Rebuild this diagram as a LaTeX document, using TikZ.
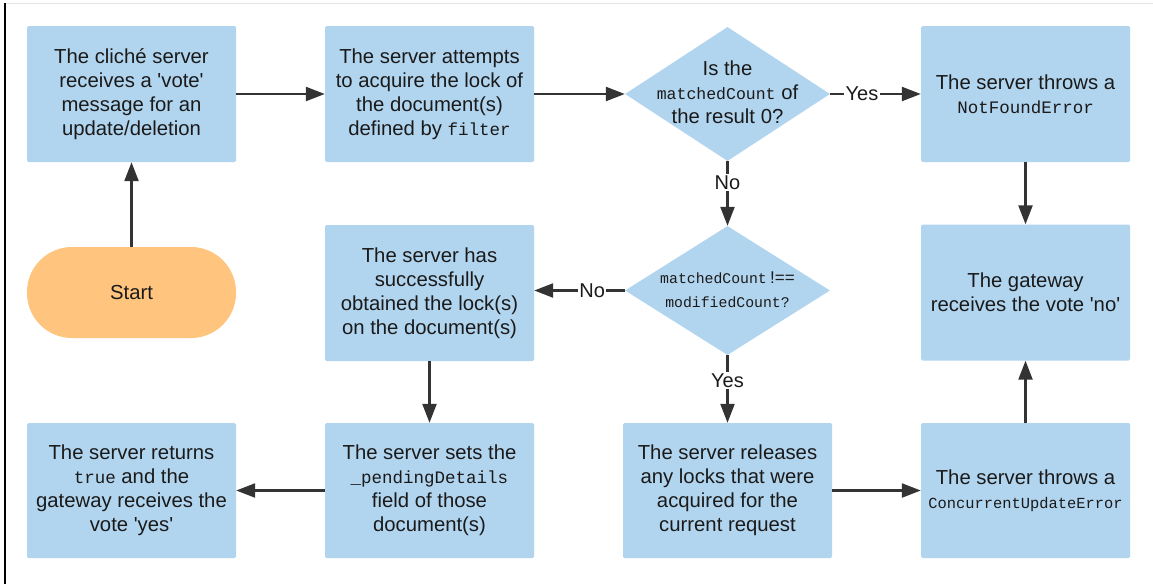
\documentclass[tikz,border=0pt]{standalone}
\usepackage{fontspec}
\newfontfamily\lsans{Liberation Sans}
\newfontfamily\lmono{Liberation Mono}
\usetikzlibrary{arrows.meta,shapes.geometric}
\definecolor{boxblue}{HTML}{B2D5EF}
\definecolor{startorange}{HTML}{FFC47D}
\definecolor{linegray}{HTML}{333333}
\definecolor{txt}{HTML}{1A1A1A}
\definecolor{framegray}{HTML}{E4E4E4}
\newcommand\codetxt[2]{{\lmono\fontsize{#1}{24}\selectfont #2}}
\begin{document}
\begin{tikzpicture}[x=1pt,y=1pt,
  proc/.style={rectangle, fill=boxblue, rounded corners=1.5pt, minimum width=209pt, minimum height=136pt,
    inner sep=0pt, align=center, font=\lsans\fontsize{20.3}{24}\selectfont, text=txt},
  decision/.style={diamond, fill=boxblue, minimum width=205pt, minimum height=#1, inner sep=0pt},
  dtext/.style={align=center, inner sep=0pt, font=\lsans\fontsize{20.3}{24}\selectfont, text=txt},
  terminal/.style={rectangle, fill=startorange, rounded corners=45pt, minimum width=209pt, minimum height=91pt,
    inner sep=0pt, font=\lsans\fontsize{20.3}{24}\selectfont, text=txt},
  arr/.style={draw=linegray, line width=2.3pt, -{Triangle[length=19pt,width=14pt]}},
  lbl/.style={fill=white, inner sep=1.5pt, font=\lsans\fontsize{20}{24}\selectfont, text=txt},
]
\useasboundingbox (0,0) rectangle (1153,-584);
\fill[white] (0,0) rectangle (1153,-584);
\draw[framegray, line width=1pt] (5,-3) -- (1153,-3);
\draw[black, line width=1.5pt] (5,-3) -- (5,-584);

% row 1
\node[proc] (b1) at (131.5,-94) {The clich\'e server\\receives a 'vote'\\message for an\\update/deletion};
\node[proc] (b2) at (429.5,-94) {The server attempts\\to acquire the lock of\\the document(s)\\defined by \codetxt{17.5}{filter}};
\node[decision=134pt] (d1) at (727.5,-94) {};
\node[dtext] (d1t) at (727.5,-92) {Is the\\\codetxt{16.5}{matchedCount} of\\the result 0?};
\node[proc] (b4) at (1025.5,-94) {The server throws a\\\codetxt{17.5}{NotFoundError}};

% row 2
\node[terminal] (start) at (131.5,-292.5) {Start};
\node[proc] (has) at (429.5,-293) {The server has\\successfully\\obtained the lock(s)\\on the document(s)};
\node[decision=129pt] (d2) at (727.5,-290.5) {};
\node[dtext] (d2t) at (727.5,-290) {\codetxt{14.8}{matchedCount}\,{\fontsize{17}{24}\selectfont !==}\\\codetxt{14.8}{modifiedCount?}};
\node[proc] (g) at (1025.5,-292.5) {The gateway\\receives the vote 'no'};

% row 3
\node[proc, minimum height=135pt] (ret) at (131.5,-490.5) {The server returns\\\codetxt{17.5}{true} and the\\gateway receives the\\vote 'yes'};
\node[proc, minimum height=135pt] (pend) at (429.5,-490.5) {The server sets the\\\codetxt{17.5}{\_pendingDetails}\\field of those\\document(s)};
\node[proc, minimum height=135pt] (rel) at (727.5,-490.5) {The server releases\\any locks that were\\acquired for the\\current request};
\node[proc, minimum height=135pt] (cue) at (1025.5,-490.5) {The server throws a\\\codetxt{15.4}{ConcurrentUpdateError}};

% connectors
\draw[arr] (start.north) -- (b1.south);
\draw[arr] (b1.east) -- (b2.west);
\draw[arr] (b2.east) -- (d1.west);
\draw[arr] (d1.east) -- node[lbl, pos=0.35] {Yes} (b4.west);
\draw[arr] (d1.south) -- node[lbl, pos=0.33] {No} (d2.north);
\draw[arr] (b4.south) -- (g.north);
\draw[arr] (d2.west) -- node[lbl, pos=0.36] {No} (d2.west -| has.east);
\draw[arr] (d2.south) -- node[lbl, pos=0.37] {Yes} (rel.north);
\draw[arr] (has.south) -- (pend.north);
\draw[arr] (pend.west) -- (ret.east);
\draw[arr] (rel.east) -- (cue.west);
\draw[arr] (cue.north) -- (g.south);
\end{tikzpicture}
\end{document}
